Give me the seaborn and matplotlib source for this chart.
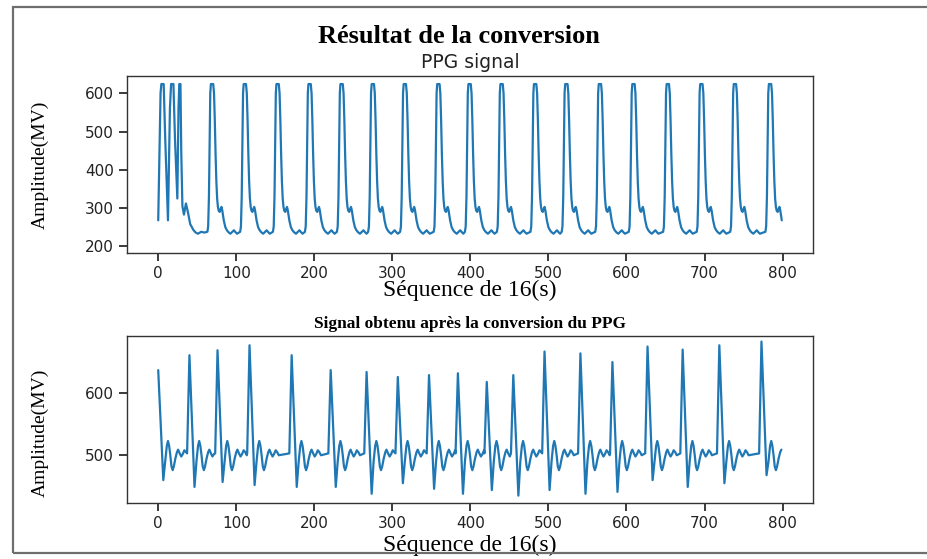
import numpy as np
import pandas as pd
import matplotlib
matplotlib.use("Agg")
import matplotlib.pyplot as plt
from matplotlib.patches import Rectangle
import seaborn as sns

# ---- PPG signal (top) ----
# opening irregular part of the recording
ppg_start_x = [0, 3, 4, 7, 9, 12.5, 15, 16.5, 19.5, 21.5, 24.5, 26, 27, 28.5, 29.5,
               31, 33, 35.5, 38, 41, 45, 48, 51, 55, 59]
ppg_start_y = [268, 600, 624, 624, 480, 268, 560, 624, 624, 480, 325, 560, 624, 624, 450,
               305, 283, 312, 290, 258, 243, 236, 233, 238, 236]
# systolic peak positions (sample index) of the regular beats
ppg_peaks = [69, 111, 153, 194, 235, 275, 316, 359, 399, 440, 483, 523, 566, 609,
             653, 696, 739, 784]
# one beat, as (offset from peak, amplitude) vertices
ppg_offsets = [-6, -5, -4, -3, -2.3, -1.5, 1.5, 2.5, 3.5, 4.5, 5.5, 6.5, 7.5, 8.5,
               9.8, 11, 12, 13, 15, 17, 19, 21, 23.5, 26, 28, 30, 32]
ppg_shape = [238, 252, 330, 500, 600, 624, 624, 600, 530, 440, 370, 325, 303, 293,
             290, 298, 303, 295, 268, 250, 242, 237, 233, 238, 242, 237, 233]

# ---- converted signal (bottom) ----
ecg_peaks = [0, 40, 76, 117, 171, 221, 267, 307, 347, 384, 421, 455, 495, 541,
             582, 627, 672, 719, 773]
ecg_r = [637, 661, 669, 677, 661, 637, 634, 626, 629, 632, 618, 629, 667, 664,
         650, 675, 670, 677, 683]
ecg_s = [460, 449, 457, 452, 449, 449, 438, 455, 446, 438, 444, 435, 444, 438,
         441, 460, 449, 455, 468]
# one beat: index 1 takes the R value, index 2 the S value of each beat
ecg_offsets = [-3, 0, 6.5, 9, 11, 12.5, 14, 15.5, 17, 18.5, 20, 22, 24, 25.5, 27.5,
               29.5, 31.5, 33.5, 35.5, 37.5]
ecg_shape = [503, None, None, 490, 515, 523, 515, 500, 482, 476, 482, 495, 505, 509,
             503, 498, 502, 508, 505, 500]

ppg_yticks = [200, 300, 400, 500, 600]
ecg_yticks = [500, 600]
x_ticks = [0, 100, 200, 300, 400, 500, 600, 700, 800]
last_sample = 799


def beat_vertices(peaks, offsets, shapes, last):
    xs, ys = [], []
    for i, p in enumerate(peaks):
        limit = peaks[i + 1] + offsets[0] if i + 1 < len(peaks) else last + 1e-6
        for off, val in zip(offsets, shapes[i]):
            x = p + off
            if x < 0 or x >= limit or x > last:
                continue
            xs.append(x)
            ys.append(val)
    return xs, ys


ppg_beats = [ppg_shape] * len(ppg_peaks)
px, py = beat_vertices(ppg_peaks, ppg_offsets, ppg_beats, last_sample)
ppg = pd.DataFrame({"sample": ppg_start_x + px, "amplitude": ppg_start_y + py})

ecg_beats = []
for r, s in zip(ecg_r, ecg_s):
    b = list(ecg_shape)
    b[1], b[2] = r, s
    ecg_beats.append(b)
ex, ey = beat_vertices(ecg_peaks, ecg_offsets, ecg_beats, last_sample)
ecg = pd.DataFrame({"sample": ex, "amplitude": ey})

sns.set_theme(style="ticks", rc={
    "axes.edgecolor": "#333333",
    "axes.linewidth": 1.0,
    "axes.labelcolor": "black",
    "text.color": "black",
    "xtick.color": "#222222",
    "ytick.color": "#222222",
    "xtick.labelsize": 11,
    "ytick.labelsize": 11,
})
plt.rcParams["font.family"] = ["DejaVu Sans"]

fig = plt.figure(figsize=(9.27, 5.59), dpi=100)
ax1 = fig.add_axes([0.137, 0.547, 0.740, 0.317])
ax2 = fig.add_axes([0.137, 0.100, 0.740, 0.299])

line_color = "#1f77b4"
sns.lineplot(data=ppg, x="sample", y="amplitude", ax=ax1, estimator=None, sort=False,
             color=line_color, linewidth=1.6)
sns.lineplot(data=ecg, x="sample", y="amplitude", ax=ax2, estimator=None, sort=False,
             color=line_color, linewidth=1.6)

serif = "Liberation Serif"
for ax, yt, ylim in ((ax1, ppg_yticks, (182, 645)), (ax2, ecg_yticks, (423, 692))):
    ax.set_xlim(-40, 839)
    ax.set_ylim(*ylim)
    ax.set_xticks(x_ticks)
    ax.set_yticks(yt)
    ax.set_xlabel("Séquence de 16(s)", family=serif, fontsize=17, color="black")
    ax.set_ylabel("Amplitude(MV)", family=serif, fontsize=14, color="black")
    for sp in ax.spines.values():
        sp.set_visible(True)

ax1.yaxis.set_label_coords(-0.114, 0.5)
ax2.yaxis.set_label_coords(-0.114, 0.42)
ax1.xaxis.set_label_coords(0.5, -0.152)
ax2.xaxis.set_label_coords(0.5, -0.19)

ax1.set_title("PPG signal", fontsize=13.5, color="#222222")
ax2.set_title("Signal obtenu après la conversion du PPG", family=serif,
              fontweight="bold", fontsize=12.5, color="black")
fig.text(0.495, 0.934, "Résultat de la conversion", family=serif, fontweight="bold",
         fontsize=19, ha="center", va="center", color="black")

# outer frame around the figure
fig.patches.append(Rectangle((13 / 927, 1 - 553 / 559), 1.2, (553 - 7) / 559,
                             transform=fig.transFigure, fill=False,
                             edgecolor="#6e6e6e", linewidth=1.6))

fig.savefig("out.png", dpi=100)
